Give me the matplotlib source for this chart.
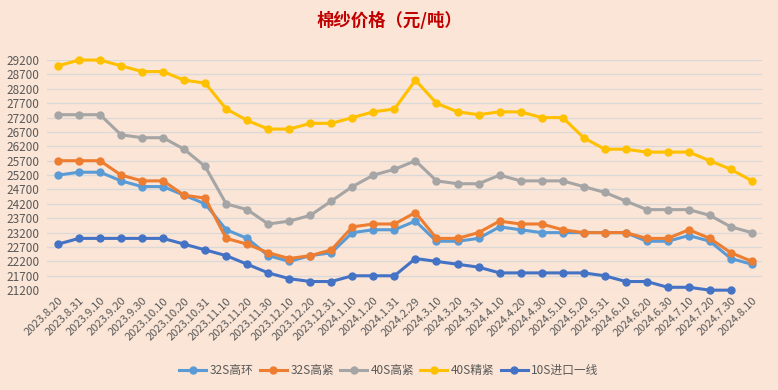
import matplotlib.pyplot as plt
import numpy as np

plt.rcParams['font.family'] = ['Noto Sans CJK SC', 'DejaVu Sans']

dates = ['2023.8.20', '2023.8.31', '2023.9.10', '2023.9.20', '2023.9.30', '2023.10.10',
         '2023.10.20', '2023.10.31', '2023.11.10', '2023.11.20', '2023.11.30', '2023.12.10',
         '2023.12.20', '2023.12.31', '2024.1.10', '2024.1.20', '2024.1.31', '2024.2.29',
         '2024.3.10', '2024.3.20', '2024.3.31', '2024.4.10', '2024.4.20', '2024.4.30',
         '2024.5.10', '2024.5.20', '2024.5.31', '2024.6.10', '2024.6.20', '2024.6.30',
         '2024.7.10', '2024.7.20', '2024.7.30', '2024.8.10']

s32_ring = [25200, 25300, 25300, 25000, 24800, 24800, 24500, 24200, 23300, 23000, 22400, 22200,
            22400, 22500, 23200, 23300, 23300, 23600, 22900, 22900, 23000, 23400, 23300, 23200,
            23200, 23200, 23200, 23200, 22900, 22900, 23100, 22900, 22300, 22100]
s32_tight = [25700, 25700, 25700, 25200, 25000, 25000, 24500, 24400, 23000, 22800, 22500, 22300,
             22400, 22600, 23400, 23500, 23500, 23900, 23000, 23000, 23200, 23600, 23500, 23500,
             23300, 23200, 23200, 23200, 23000, 23000, 23300, 23000, 22500, 22200]
s40_tight = [27300, 27300, 27300, 26600, 26500, 26500, 26100, 25500, 24200, 24000, 23500, 23600,
             23800, 24300, 24800, 25200, 25400, 25700, 25000, 24900, 24900, 25200, 25000, 25000,
             25000, 24800, 24600, 24300, 24000, 24000, 24000, 23800, 23400, 23200]
s40_fine = [29000, 29200, 29200, 29000, 28800, 28800, 28500, 28400, 27500, 27100, 26800, 26800,
            27000, 27000, 27200, 27400, 27500, 28500, 27700, 27400, 27300, 27400, 27400, 27200,
            27200, 26500, 26100, 26100, 26000, 26000, 26000, 25700, 25400, 25000]
s10_import = [22800, 23000, 23000, 23000, 23000, 23000, 22800, 22600, 22400, 22100, 21800, 21600,
              21500, 21500, 21700, 21700, 21700, 22300, 22200, 22100, 22000, 21800, 21800, 21800,
              21800, 21800, 21700, 21500, 21500, 21300, 21300, 21200, 21200, np.nan]

series = [
    ('32S高环', s32_ring, '#5B9BD5'),
    ('32S高紧', s32_tight, '#ED7D31'),
    ('40S高紧', s40_tight, '#A5A5A5'),
    ('40S精紧', s40_fine, '#FFC000'),
    ('10S进口一线', s10_import, '#4472C4'),
]

bg = '#FBE5D6'
fig = plt.figure(figsize=(7.78, 3.9), dpi=100, facecolor=bg)
ax = fig.add_axes([0.061, 0.256, 0.919, 0.59], facecolor=bg)

x = np.arange(len(dates))
for name, vals, color in series:
    ax.plot(x, vals, color=color, lw=2.2, marker='o', ms=5,
            label=name, clip_on=False, zorder=3)

ax.set_xlim(-0.5, len(dates) - 0.5)
ax.set_ylim(21200, 29200)
ax.set_yticks(np.arange(21200, 29201, 500))
ax.tick_params(axis='y', length=0, labelsize=8.5, colors='#595959', pad=6)
ax.set_xticks(x)
ax.set_xticklabels(dates, rotation=45, ha='right', rotation_mode='anchor')
ax.tick_params(axis='x', length=0, labelsize=8, colors='#595959', pad=4)
ax.grid(axis='y', color='#D9D9D9', lw=0.9, zorder=0)
for sp in ax.spines.values():
    sp.set_visible(False)

fig.text(0.5, 0.945, '棉纱价格（元/吨）', ha='center', va='center', fontsize=12.5,
         fontweight='bold', color='#C00000')

fig.legend(loc='center', bbox_to_anchor=(0.5, 0.05), ncol=5, frameon=False,
           fontsize=8.5, handlelength=2.3, columnspacing=0.5, handletextpad=0.3,
           labelcolor='#595959')

fig.savefig('out.png', dpi=100, facecolor=bg)
